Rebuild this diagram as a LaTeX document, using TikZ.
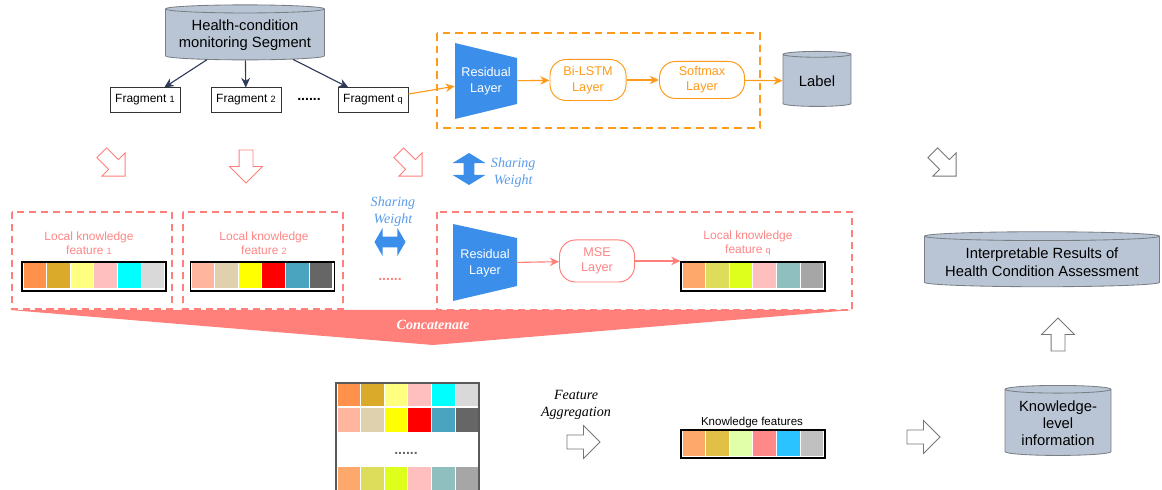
\documentclass[tikz,border=0pt]{standalone}
\usepackage{fontspec}
\setmainfont{Liberation Sans}
\newfontfamily\timesfont{Liberation Serif}
\usetikzlibrary{positioning,arrows.meta,shapes.geometric,shapes.arrows}

\definecolor{cylfill}{HTML}{B9C5D5}
\definecolor{cylline}{HTML}{7A7F86}
\definecolor{navy}{HTML}{2D3A5A}
\definecolor{lstmorange}{HTML}{FF9A1A}
\definecolor{resblue}{HTML}{3B8EEA}
\definecolor{shareblue}{HTML}{5A9CEB}
\definecolor{salmon}{HTML}{FF7F7A}
\definecolor{salmontext}{HTML}{FF8585}
\definecolor{hollowgray}{HTML}{777777}
% feature colours
\definecolor{fa1}{HTML}{FF914B}\definecolor{fa2}{HTML}{DAAA2A}\definecolor{fa3}{HTML}{FFFF80}
\definecolor{fa4}{HTML}{FFBFBF}\definecolor{fa5}{HTML}{00FFFF}\definecolor{fa6}{HTML}{D9D9D9}
\definecolor{fb1}{HTML}{FFB59E}\definecolor{fb2}{HTML}{DFD0AE}\definecolor{fb3}{HTML}{FFFF00}
\definecolor{fb4}{HTML}{FF0000}\definecolor{fb5}{HTML}{4AA3BF}\definecolor{fb6}{HTML}{666666}
\definecolor{fq1}{HTML}{FFA86B}\definecolor{fq2}{HTML}{DEDD5B}\definecolor{fq3}{HTML}{DEFF1C}
\definecolor{fq4}{HTML}{FFBFBF}\definecolor{fq5}{HTML}{8FBFBF}\definecolor{fq6}{HTML}{A6A6A6}
\definecolor{fk1}{HTML}{FFA86B}\definecolor{fk2}{HTML}{E0C146}\definecolor{fk3}{HTML}{E1FFA8}
\definecolor{fk4}{HTML}{FF8888}\definecolor{fk5}{HTML}{2AC3FF}\definecolor{fk6}{HTML}{C0C0C0}

\def\colsA{fa1,fa2,fa3,fa4,fa5,fa6}
\def\colsB{fb1,fb2,fb3,fb4,fb5,fb6}
\def\colsQ{fq1,fq2,fq3,fq4,fq5,fq6}
\def\colsK{fk1,fk2,fk3,fk4,fk5,fk6}

% one row of six feature cells: x, y (top left), height, colour list
\newcommand{\featcells}[4]{%
  \foreach \c [count=\i from 0] in #4
    \fill[\c] ({#1+\i*23.6},#2) rectangle ++(22.6,#3);}

\tikzset{
  cyl/.style={cylinder, shape border rotate=90, aspect=0.12, draw=cylline,
    fill=cylfill, line width=0.6pt, align=center, inner sep=1pt},
  fragbox/.style={draw=black!80, line width=0.7pt, minimum width=1.75cm,
    minimum height=0.6cm, inner sep=1pt, font=\fontsize{8.5}{10}\selectfont},
  layerbox/.style={rounded corners=0.4cm, line width=0.7pt, align=center,
    inner sep=1pt, font=\fontsize{9}{11}\selectfont},
  restext/.style={text=white, align=center, minimum width=1.55cm,
    minimum height=1cm, inner sep=0pt, font=\fontsize{9}{11}\selectfont},
  featbar/.style={draw=black, line width=0.8pt, minimum width=3.6cm,
    minimum height=0.725cm, inner sep=0pt},
  featlabel/.style={text=salmontext, align=center, font=\fontsize{8.5}{10}\selectfont},
  navyarrow/.style={-{Stealth[length=2.4mm,width=2.2mm]}, navy, line width=0.8pt},
  orarrow/.style={-{Stealth[length=2.3mm,width=2.1mm]}, lstmorange, line width=0.8pt},
  salarrow/.style={-{Stealth[length=2.3mm,width=2.1mm]}, salmon, line width=0.8pt},
  orangedash/.style={draw=lstmorange, line width=1.6pt, dash pattern=on 5.5pt off 3.5pt},
  reddash/.style={draw=salmon, line width=1.3pt, dash pattern=on 5pt off 3.5pt},
  hollowarrow/.style={single arrow, draw, fill=white, line width=0.6pt,
    inner xsep=0pt, inner ysep=0.1625cm, minimum height=0.825cm,
    single arrow head extend=0.2375cm},
  sharearrow/.style={double arrow, fill=resblue, inner xsep=0pt,
    inner ysep=0.125cm, minimum height=0.8cm, double arrow head extend=0.28cm,
    double arrow tip angle=117},
  sharetext/.style={text=shareblue, align=center,
    font=\timesfont\itshape\fontsize{10}{12}\selectfont},
}

\begin{document}
\begin{tikzpicture}[x=0.025cm, y=-0.025cm]
  \useasboundingbox (0,0) rectangle (1162,490);
  \clip (0,0) rectangle (1162,490);

  % segment and fragments
  \node[cyl, aspect=0.06, minimum width=3.975cm, minimum height=1.375cm,
    font=\fontsize{10.5}{12.5}\selectfont] (seg) at (245,35)
    {Health-condition\\monitoring Segment};
  \node[fragbox] (frag1) at (145,100) {Fragment {\fontsize{6.5}{7}\selectfont 1}};
  \node[fragbox] (frag2) at (246,100) {Fragment {\fontsize{6.5}{7}\selectfont 2}};
  \node[font=\bfseries] (fragdots) at (309,99) {......};
  \node[fragbox] (fragq) at (373,100) {Fragment {\fontsize{6.5}{7}\selectfont q}};
  \draw[navyarrow] (seg) -- (frag1);
  \draw[navyarrow] (seg) -- (frag2);
  \draw[navyarrow] (seg) -- (fragq);

  % classification branch
  \draw[orangedash] (437,33) rectangle (760,128);
  \fill[resblue] (455,43) -- (517,58) -- (517,104) -- (455,119) -- cycle;
  \node[restext] (resT) at (486,81) {Residual\\Layer};
  \node[layerbox, draw=lstmorange, text=lstmorange, minimum width=1.9cm,
    minimum height=1.025cm] (bilstm) at (588,80) {Bi-LSTM\\Layer};
  \node[layerbox, draw=lstmorange, text=lstmorange, minimum width=2.125cm,
    minimum height=0.925cm] (softmax) at (702,80) {Softmax\\Layer};
  \node[cyl, aspect=0.15, minimum width=1.7cm, minimum height=1.375cm,
    font=\fontsize{10.5}{12.5}\selectfont] (label) at (817,81) {Label};
  \draw[orarrow] (fragq) -- (resT);
  \draw[orarrow] (resT) -- (bilstm);
  \draw[orarrow] (bilstm) -- (softmax);
  \draw[orarrow] (softmax) -- (label);

  % hollow arrows down
  \node[hollowarrow, draw=salmon, rotate=-45] (downA) at (111,162) {};
  \node[hollowarrow, draw=salmon, rotate=-90] (downB) at (246,163) {};
  \node[hollowarrow, draw=salmon, rotate=-45] (downQ) at (408,162) {};
  \node[hollowarrow, draw=hollowgray, rotate=-45] (downR) at (942,162) {};

  % sharing weight
  \node[sharearrow, rotate=90] (shareV) at (469,169) {};
  \node[sharetext, anchor=west] (shareVtxt) at (486,173) {Sharing\\Weight};
  \node[sharetext] (shareHtxt) at (393,212) {Sharing\\Weight};
  \node[sharearrow, double arrow head extend=0.225cm, double arrow tip angle=120,
    minimum height=0.775cm] (shareH) at (390,242) {};
  \node[text=salmon, font=\bfseries] (middots) at (390,279) {......};

  % local knowledge boxes
  \draw[reddash] (12,212) rectangle (172,309);
  \draw[reddash] (183,212) rectangle (343,309);
  \draw[reddash] (437,212) rectangle (852,310);

  \node[featlabel] (loc1txt) at (89,243) {Local knowledge\\feature {\fontsize{6.5}{7}\selectfont 1}};
  \node[featbar] (bar1) at (94,276.5) {};
  \featcells{23.5}{263.5}{24.5}{\colsA}
  \node[featlabel] (loc2txt) at (264,243) {Local knowledge\\feature {\fontsize{6.5}{7}\selectfont 2}};
  \node[featbar] (bar2) at (262.5,276.5) {};
  \featcells{191.5}{263.5}{24.5}{\colsB}

  \fill[resblue] (453,224) -- (517,238) -- (517,286) -- (453,301) -- cycle;
  \node[restext] (resB) at (485,263) {Residual\\Layer};
  \node[layerbox, draw=salmon, text=salmontext, minimum width=1.875cm,
    minimum height=1.05cm] (mse) at (597,261) {MSE\\Layer};
  \node[featlabel] (locqtxt) at (748,243) {Local knowledge\\feature {\fontsize{6.5}{7}\selectfont q}};
  \node[featbar] (barq) at (753,276.5) {};
  \featcells{682.5}{263.5}{24.5}{\colsQ}
  \draw[salarrow] (resB) -- (mse);
  \draw[salarrow] (mse.east) -- (mse.east -| barq.west);

  % concatenate
  \fill[salmon] (10,310) -- (853,310) -- (433,345) -- cycle;
  \node[text=white, font=\timesfont\bfseries\itshape\fontsize{10}{12}\selectfont]
    (concat) at (433,325) {Concatenate};

  % concatenated matrix
  \draw[draw=black!65, line width=1pt] (336,383) rectangle (479,500);
  \featcells{337.5}{384}{22.5}{\colsA}
  \featcells{337.5}{408}{24}{\colsB}
  \featcells{337.5}{467}{30}{\colsQ}
  \node[text=black!60, font=\bfseries] (matdots) at (406,453) {......};

  % aggregation
  \node[align=center, font=\timesfont\itshape\fontsize{10}{12}\selectfont]
    (aggtxt) at (576,405) {Feature\\Aggregation};
  \node[hollowarrow, draw=hollowgray] (aggarrow) at (580,442) {};
  \node[font=\fontsize{8.2}{10}\selectfont] (kftxt) at (752,423) {Knowledge features};
  \node[featbar, minimum height=0.7cm] (bark) at (753,444) {};
  \featcells{682.5}{431.5}{24.5}{\colsK}
  \node[hollowarrow, draw=hollowgray] (kfarrow) at (920,437) {};

  % knowledge-level information and results
  \node[cyl, aspect=0.095, minimum width=2.65cm, minimum height=1.75cm,
    font=\fontsize{10.5}{12.2}\selectfont] (klinfo) at (1058,423)
    {Knowledge-\\level\\information};
  \node[hollowarrow, draw=hollowgray, rotate=90] (uparrow) at (1058,338) {};
  \node[cyl, aspect=0.045, minimum width=5.875cm, minimum height=1.375cm,
    font=\fontsize{10.5}{12.5}\selectfont] (results) at (1042,262)
    {Interpretable Results of\\Health Condition Assessment};

\end{tikzpicture}
\end{document}
